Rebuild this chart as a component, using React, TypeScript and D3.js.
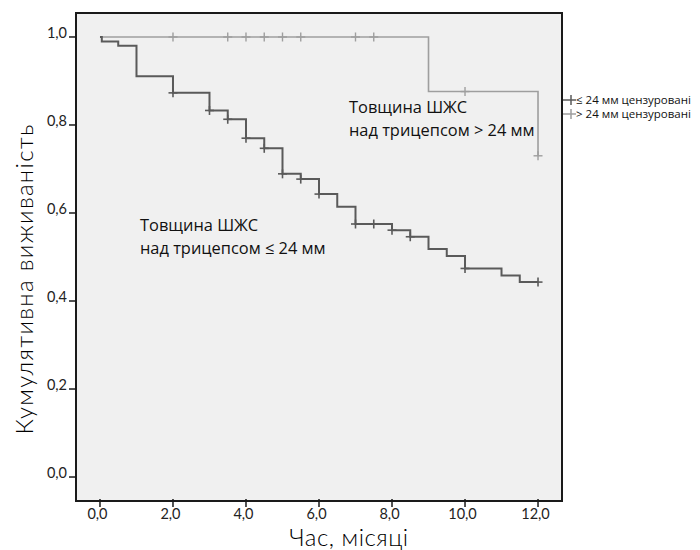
import React from "react";
import * as d3 from "d3";

// Kaplan-Meier steps, skinfold <= 24 mm
const lowTimes = [0, 0.05, 0.5, 1, 2, 3, 3.5, 4, 4.5, 5, 5.5, 6, 6.5, 7, 8, 8.5, 9, 9.5, 10, 11, 11.5, 12];
const lowSurv = [1.0, 0.99, 0.98, 0.911, 0.873, 0.833, 0.813, 0.77, 0.747, 0.689, 0.677, 0.643, 0.614, 0.575, 0.561, 0.546, 0.518, 0.502, 0.474, 0.458, 0.443, 0.443];
const lowCensored = [2, 3, 3.5, 4, 4.5, 5, 5.5, 6, 7, 7.5, 8, 8.5, 10, 12];

// skinfold > 24 mm
const highTimes = [0, 9, 12];
const highSurv = [1.0, 0.876, 0.73];
const highCensored = [2, 3.5, 4, 4.5, 5, 5.5, 7, 7.5, 10, 12];

const xTicks = [0, 2, 4, 6, 8, 10, 12];
const yTicks = [0, 0.2, 0.4, 0.6, 0.8, 1.0];
const legendLabels = ["≤ 24 мм цензуровані", "> 24 мм цензуровані"];

const width = 700;
const height = 550;
const box = { left: 76, right: 562, top: 13, bottom: 501 };
const darkColor = "#5a5a5a";
const lightColor = "#9e9e9e";
const axisFont = "Lato, 'DejaVu Sans', sans-serif";
const textFont = "'Open Sans', 'Noto Sans', sans-serif";

const fmt = (v: number) => v.toFixed(1).replace(".", ",");

export default function App() {
  const x = d3.scaleLinear().domain([-0.657, 12.657]).range([box.left, box.right]);
  const y = d3.scaleLinear().domain([-0.0545, 1.0545]).range([box.bottom, box.top]);

  const line = d3
    .line<[number, number]>()
    .x(d => x(d[0]))
    .y(d => y(d[1]))
    .curve(d3.curveStepAfter);

  const lowPts = lowTimes.map((t, i) => [t, lowSurv[i]] as [number, number]);
  const highPts = highTimes.map((t, i) => [t, highSurv[i]] as [number, number]);

  const survAt = (times: number[], surv: number[], t: number) => {
    let s = surv[0];
    times.forEach((tt, i) => {
      if (tt <= t) s = surv[i];
    });
    return s;
  };

  const plus = (cx: number, cy: number, color: string, w: number, key: string) => (
    <g key={key} stroke={color} strokeWidth={w}>
      <line x1={cx} x2={cx} y1={cy - 4.5} y2={cy + 4.5} />
      <line x1={cx - 4.5} x2={cx + 4.5} y1={cy} y2={cy} />
    </g>
  );

  return (
    <svg width={width} height={height} style={{ position: "absolute", left: 0, top: 0 }}>
      <rect x={0} y={0} width={width} height={height} fill="#fff" />
      <rect
        x={box.left}
        y={box.top}
        width={box.right - box.left}
        height={box.bottom - box.top}
        fill="#f0f0f0"
        stroke="#1a1a1a"
        strokeWidth={2}
      />

      {/* y axis */}
      {yTicks.map(v => (
        <g key={"y" + v}>
          <line x1={box.left - 7} x2={box.left} y1={y(v)} y2={y(v)} stroke="#1a1a1a" strokeWidth={1.5} />
          <text
            x={box.left - 9}
            y={y(v)}
            dy="0.1em"
            textAnchor="end"
            fontFamily={axisFont}
            fontSize={14.5}
            fill="#222"
          >
            {fmt(v)}
          </text>
        </g>
      ))}

      {/* x axis */}
      {xTicks.map(v => (
        <g key={"x" + v}>
          <line x1={x(v)} x2={x(v)} y1={box.bottom - 2} y2={box.bottom + 6} stroke="#1a1a1a" strokeWidth={1.5} />
          <text
            x={x(v) - 2.5}
            y={box.bottom + 18}
            textAnchor="middle"
            fontFamily={axisFont}
            fontSize={14.5}
            fill="#222"
          >
            {fmt(v)}
          </text>
        </g>
      ))}

      <text
        x={349}
        y={546}
        textAnchor="middle"
        fontFamily={axisFont}
        fontSize={24}
        fontWeight={300}
        letterSpacing={0.5}
        fill="#000"
      >
        Час, місяці
      </text>
      <text
        transform="translate(33, 279) rotate(-90)"
        textAnchor="middle"
        fontFamily={axisFont}
        fontSize={24}
        fontWeight={300}
        letterSpacing={1.3}
        fill="#000"
      >
        Кумулятивна виживаність
      </text>

      {/* curves */}
      <path d={line(highPts) || ""} fill="none" stroke={lightColor} strokeWidth={1.6} />
      <path d={line(lowPts) || ""} fill="none" stroke={darkColor} strokeWidth={2} />

      {highCensored.map((t, i) =>
        plus(x(t), y(survAt(highTimes, highSurv, t)), lightColor, 1.4, "hc" + i)
      )}
      {lowCensored.map((t, i) =>
        plus(x(t), y(survAt(lowTimes, lowSurv, t)), darkColor, 1.6, "lc" + i)
      )}

      {/* annotations */}
      <g fontFamily={textFont} fontSize={16.4} fill="#111">
        <text x={349} y={113}>Товщина ШЖС</text>
        <text x={349} y={136}>над трицепсом &gt; 24 мм</text>
        <text x={140} y={231}>Товщина ШЖС</text>
        <text x={140} y={254}>над трицепсом ≤ 24 мм</text>
      </g>

      {/* legend */}
      {legendLabels.map((lab, i) => {
        const ly = 100 + i * 14;
        const c = i === 0 ? darkColor : lightColor;
        return (
          <g key={"lg" + i}>
            <line x1={563} x2={576} y1={ly} y2={ly} stroke={c} strokeWidth={1.5} />
            <line x1={571} x2={571} y1={ly - 5} y2={ly + 5} stroke={c} strokeWidth={1.5} />
            <text x={576} y={ly} dy="0.35em" fontFamily={textFont} fontSize={11.5} fill="#111">
              {lab}
            </text>
          </g>
        );
      })}
    </svg>
  );
}
